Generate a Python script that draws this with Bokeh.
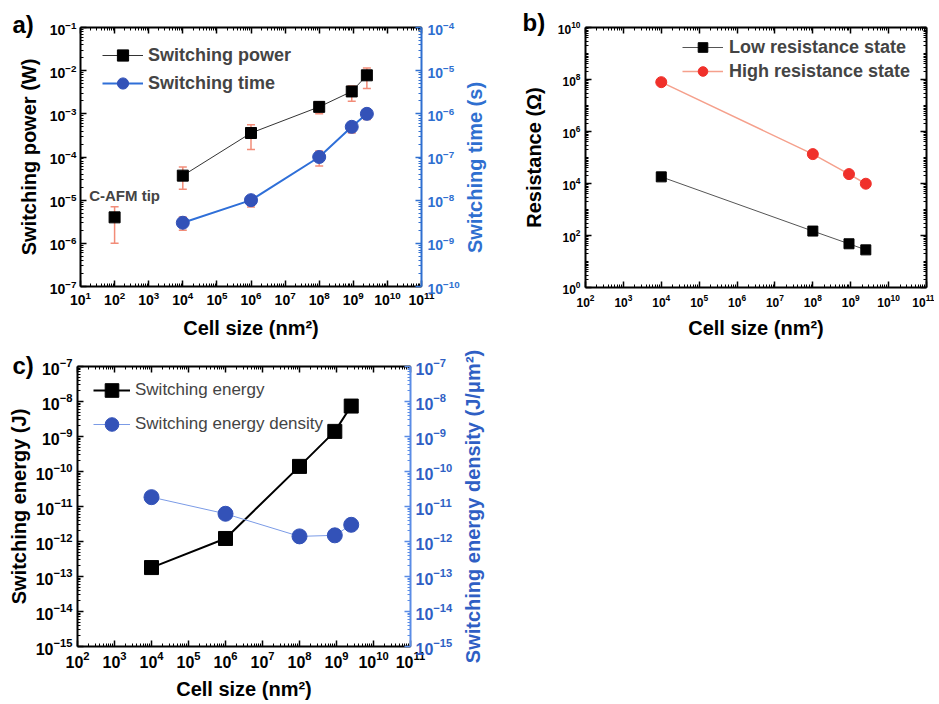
import math
from bokeh.plotting import figure
from bokeh.models import (LogAxis, Range1d, LogScale, FixedTicker, ColumnDataSource,
                          Whisker, TeeHead, Label, CustomJSTickFormatter, GridBox)
from bokeh.embed import file_html
from bokeh.resources import INLINE

FONT = "Liberation Sans"

# ---------------- data ----------------
# panel a) switching power / switching time vs cell size
tip_size = [1e2]
tip_power = [4.0e-6]
tip_power_lo = [1.0e-6]
tip_power_hi = [7.0e-6]
cell_a = [1e4, 1e6, 1e8, 9e8, 2.5e9]
power = [3.7e-5, 3.6e-4, 1.45e-3, 3.3e-3, 7.8e-3]
power_lo = [1.8e-5, 1.5e-4, 1.0e-3, 1.95e-3, 3.85e-3]
power_hi = [5.9e-5, 5.6e-4, 1.9e-3, 4.4e-3, 1.16e-2]
sw_time = [3.0e-9, 1.0e-8, 1.0e-7, 5.0e-7, 1.0e-6]
time_lo = [2.0e-9, 6.9e-9, 6.2e-8, 3.6e-7, 7.4e-7]
time_hi = [4.1e-9, 1.23e-8, 1.38e-7, 6.3e-7, 1.3e-6]
# panel b) resistance vs cell size
cell_b = [1e4, 1e8, 9e8, 2.5e9]
lrs = [1.8e4, 1.48e2, 4.8e1, 2.8e1]
hrs = [7.9e7, 1.35e5, 2.3e4, 9.8e3]
# panel c) switching energy / energy density vs cell size
cell_c = [1e4, 1e6, 1e8, 9e8, 2.5e9]
energy = [1.8e-13, 1.22e-12, 1.4e-10, 1.4e-9, 7.4e-9]
energy_density = [1.85e-11, 6.2e-12, 1.4e-12, 1.5e-12, 3.0e-12]

# axis decades (exponents of 10)
a_x_exp = (1, 11)
a_yl_exp = (-7, -1)
a_yr_exp = (-10, -4)
b_x_exp = (2, 11)
b_y_exp = (0, 10)
c_x_exp = (2, 11)
c_yl_exp = (-15, -7)
c_yr_exp = (-15, -7)

ERR = "#F28C78"
BLUE_DOT = "#3352B8"
BLUE_LINE_A = "#2F6FD8"
BLUE_AX_A = "#2F6FD0"
BLUE_AX_C = "#5A8CE6"
BLUE_TXT_C = "#2F5FC4"
HRS_DOT = "#F0302A"
HRS_LINE = "#F5A08C"

PAGE_W, PAGE_H = 934, 704
COL0_W, ROW0_H = 488, 344


def log_ticker(lo, hi, step=1):
    major = [10.0 ** k for k in range(lo, hi + 1, step)]
    minor = [m * 10.0 ** k for k in range(lo, hi) for m in range(1, 10)
             if not (m == 1 and (k - lo) % step == 0)]
    return FixedTicker(ticks=major, minor_ticks=minor)


def style_axis(ax, color="black", tick_px="13px", label_px="20px",
               tick_standoff=4, label_standoff=8, label_color=None, tick_color=None):
    ax.axis_line_color = color
    ax.axis_line_width = 2
    ax.major_tick_line_color = color
    ax.minor_tick_line_color = color
    ax.major_tick_line_width = 1.5
    ax.minor_tick_line_width = 1
    ax.major_tick_in = 6
    ax.major_tick_out = 0
    ax.minor_tick_in = 3
    ax.minor_tick_out = 0
    ax.major_label_text_font = FONT
    ax.major_label_text_font_style = "bold"
    ax.major_label_text_font_size = tick_px
    ax.major_label_text_color = tick_color or color
    ax.major_label_standoff = tick_standoff
    ax.axis_label_text_font = FONT
    ax.axis_label_text_font_style = "bold"
    ax.axis_label_text_font_size = label_px
    ax.axis_label_text_color = label_color or color
    ax.axis_label_standoff = label_standoff


def mirror_axis(p, side, exps, step=1):
    ax = LogAxis(ticker=log_ticker(*exps, step=step))
    style_axis(ax, tick_px="1px", tick_standoff=0)
    ax.formatter = CustomJSTickFormatter(code="return ''")
    p.add_layout(ax, side)
    return ax


def make_fig(w, h, xexp, yexp, borders, ystep=1):
    l, r, t, b = borders
    p = figure(width=w, height=h, x_axis_type="log", y_axis_type="log",
               x_range=Range1d(10.0 ** xexp[0], 10.0 ** xexp[1]),
               y_range=Range1d(10.0 ** yexp[0], 10.0 ** yexp[1]),
               output_backend="svg", toolbar_location=None,
               min_border_left=l, min_border_right=r,
               min_border_top=t, min_border_bottom=b, frame_align=False)
    p.grid.visible = False
    p.outline_line_color = None
    p.background_fill_color = "white"
    p.border_fill_color = "white"
    p.xaxis.ticker = log_ticker(*xexp)
    p.yaxis.ticker = log_ticker(*yexp, step=ystep)
    return p


def style_legend(lg, loc, glyph_w, glyph_h, spacing, standoff, size, style):
    lg.location = loc
    lg.border_line_color = None
    lg.background_fill_alpha = 0
    lg.padding = 0
    lg.margin = 0
    lg.spacing = spacing
    lg.glyph_width = glyph_w
    lg.glyph_height = glyph_h
    lg.label_standoff = standoff
    lg.label_text_font = FONT
    lg.label_text_font_size = size
    lg.label_text_font_style = style
    lg.label_text_baseline = "middle"


def whisk(src, lo, hi, range_name="default"):
    return Whisker(source=src, base="x", lower=lo, upper=hi, dimension="height",
                   y_range_name=range_name, line_color=ERR, line_width=1.5,
                   upper_head=TeeHead(size=8, line_color=ERR, line_width=1.5),
                   lower_head=TeeHead(size=8, line_color=ERR, line_width=1.5))


# ---------------- panel a ----------------
pa = make_fig(COL0_W, ROW0_H, a_x_exp, a_yl_exp, (80, 67, 27, 58))
pa.extra_y_ranges = {"time": Range1d(10.0 ** a_yr_exp[0], 10.0 ** a_yr_exp[1])}
pa.extra_y_scales = {"time": LogScale()}
style_axis(pa.xaxis[0], tick_px="14px", tick_standoff=4, label_standoff=9)
pa.xaxis[0].axis_label = "Cell size (nm²)"
style_axis(pa.yaxis[0], tick_px="14px", tick_standoff=4, label_standoff=7)
pa.yaxis[0].axis_label = "Switching power (W)"
ax_time = LogAxis(y_range_name="time", ticker=log_ticker(*a_yr_exp))
style_axis(ax_time, color=BLUE_AX_A, tick_px="14px", tick_standoff=6)
pa.add_layout(ax_time, "right")
mirror_axis(pa, "above", a_x_exp)

src_a = ColumnDataSource(dict(x=cell_a, p=power, plo=power_lo, phi=power_hi,
                              t=sw_time, tlo=time_lo, thi=time_hi))
src_tip = ColumnDataSource(dict(x=tip_size, p=tip_power, plo=tip_power_lo, phi=tip_power_hi))

pa.add_layout(whisk(src_tip, "plo", "phi"))
pa.add_layout(whisk(src_a, "plo", "phi"))
pa.add_layout(whisk(src_a, "tlo", "thi", "time"))

pa.line("x", "p", source=src_a, line_color="#333333", line_width=1,
        legend_label="Switching power")
pa.scatter("x", "p", source=src_a, marker="square", size=11, fill_color="black",
           line_color="black", legend_label="Switching power")
pa.scatter("x", "p", source=src_tip, marker="square", size=11, fill_color="black",
           line_color="black")
pa.line("x", "t", source=src_a, y_range_name="time", line_color=BLUE_LINE_A, line_width=2,
        legend_label="Switching time")
pa.scatter("x", "t", source=src_a, y_range_name="time", marker="circle", size=13,
           fill_color=BLUE_DOT, line_color=BLUE_DOT, legend_label="Switching time")
style_legend(pa.legend[0], (22, 189), 41, 28, -1, 5, "18px", "bold")

pa.add_layout(Label(x=tip_size[0], y=tip_power_hi[0], x_offset=10, y_offset=11,
                    text="C-AFM tip", text_font=FONT, text_font_style="bold",
                    text_font_size="15px", text_align="center", text_baseline="middle"))

# ---------------- panel b ----------------
pb = make_fig(PAGE_W - COL0_W, ROW0_H, b_x_exp, b_y_exp, (97, 8, 27, 57), ystep=2)
style_axis(pb.xaxis[0], tick_px="12px", tick_standoff=6, label_standoff=7)
pb.xaxis[0].axis_label = "Cell size (nm²)"
style_axis(pb.yaxis[0], tick_px="12px", tick_standoff=5, label_standoff=10)
pb.yaxis[0].axis_label = "Resistance (Ω)"
mirror_axis(pb, "above", b_x_exp)
mirror_axis(pb, "right", b_y_exp, step=2)

src_b = ColumnDataSource(dict(x=cell_b, lrs=lrs, hrs=hrs))
pb.line("x", "lrs", source=src_b, line_color="#555555", line_width=1,
        legend_label="Low resistance state")
pb.scatter("x", "lrs", source=src_b, marker="square", size=10, fill_color="black",
           line_color="black", legend_label="Low resistance state")
pb.line("x", "hrs", source=src_b, line_color=HRS_LINE, line_width=1.5,
        legend_label="High resistance state")
pb.scatter("x", "hrs", source=src_b, marker="circle", size=11, fill_color=HRS_DOT,
           line_color=HRS_DOT, legend_label="High resistance state")
style_legend(pb.legend[0], (97, 204), 41, 24, -1, 6, "18px", "bold")

# ---------------- panel c ----------------
pc = make_fig(COL0_W, PAGE_H - ROW0_H, c_x_exp, c_yl_exp, (77, 78, 22, 58))
pc.extra_y_ranges = {"dens": Range1d(10.0 ** c_yr_exp[0], 10.0 ** c_yr_exp[1])}
pc.extra_y_scales = {"dens": LogScale()}
style_axis(pc.xaxis[0], tick_px="16px", tick_standoff=4, label_standoff=7)
pc.xaxis[0].axis_label = "Cell size (nm²)"
style_axis(pc.yaxis[0], tick_px="16px", tick_standoff=5, label_standoff=3)
pc.yaxis[0].axis_label = "Switching energy (J)"
ax_dens = LogAxis(y_range_name="dens", ticker=log_ticker(*c_yr_exp))
style_axis(ax_dens, color=BLUE_AX_C, tick_px="16px", tick_standoff=5, tick_color=BLUE_TXT_C)
pc.add_layout(ax_dens, "right")
mirror_axis(pc, "above", c_x_exp)

src_c = ColumnDataSource(dict(x=cell_c, e=energy, d=energy_density))
pc.line("x", "e", source=src_c, line_color="black", line_width=2,
        legend_label="Switching energy")
pc.scatter("x", "e", source=src_c, marker="square", size=14, fill_color="black",
           line_color="black", legend_label="Switching energy")
pc.line("x", "d", source=src_c, y_range_name="dens", line_color="#7B9BE6", line_width=1,
        legend_label="Switching energy density")
pc.scatter("x", "d", source=src_c, y_range_name="dens", marker="circle", size=15,
           fill_color=BLUE_DOT, line_color=BLUE_DOT, legend_label="Switching energy density")
style_legend(pc.legend[0], (16, 205), 37, 34, -6, 5, "17px", "normal")

# ---------------- transparent overlay for texts outside the frames ----------------
ov = figure(width=PAGE_W, height=PAGE_H, x_range=Range1d(0, PAGE_W), y_range=Range1d(0, PAGE_H),
            output_backend="svg", toolbar_location=None,
            x_axis_location=None, y_axis_location=None, frame_align=False,
            min_border_left=0, min_border_right=0, min_border_top=0, min_border_bottom=0)
ov.grid.visible = False
ov.outline_line_color = None
ov.background_fill_color = None
ov.border_fill_color = None


def ov_text(text, px, py, size="24px", color="black", angle=0.0, align="left"):
    ov.add_layout(Label(x=px, y=PAGE_H - py, text=text, angle=angle,
                        text_font=FONT, text_font_style="bold", text_font_size=size,
                        text_color=color, text_align=align, text_baseline="middle"))


ov_text("a)", 12, 24)
ov_text("b)", 522, 22)
ov_text("c)", 12, 365)
ov_text("Switching time (s)", 474, 167, size="20px", color=BLUE_AX_A,
        angle=math.pi / 2, align="center")
ov_text("Switching energy density (J/μm²)", 472, 506, size="20px", color=BLUE_TXT_C,
        angle=math.pi / 2, align="center")

grid = GridBox(children=[(pa, 0, 0), (pb, 0, 1), (pc, 1, 0), (ov, 0, 0, 2, 2)])
open("out.html", "w").write(file_html(grid, INLINE))
